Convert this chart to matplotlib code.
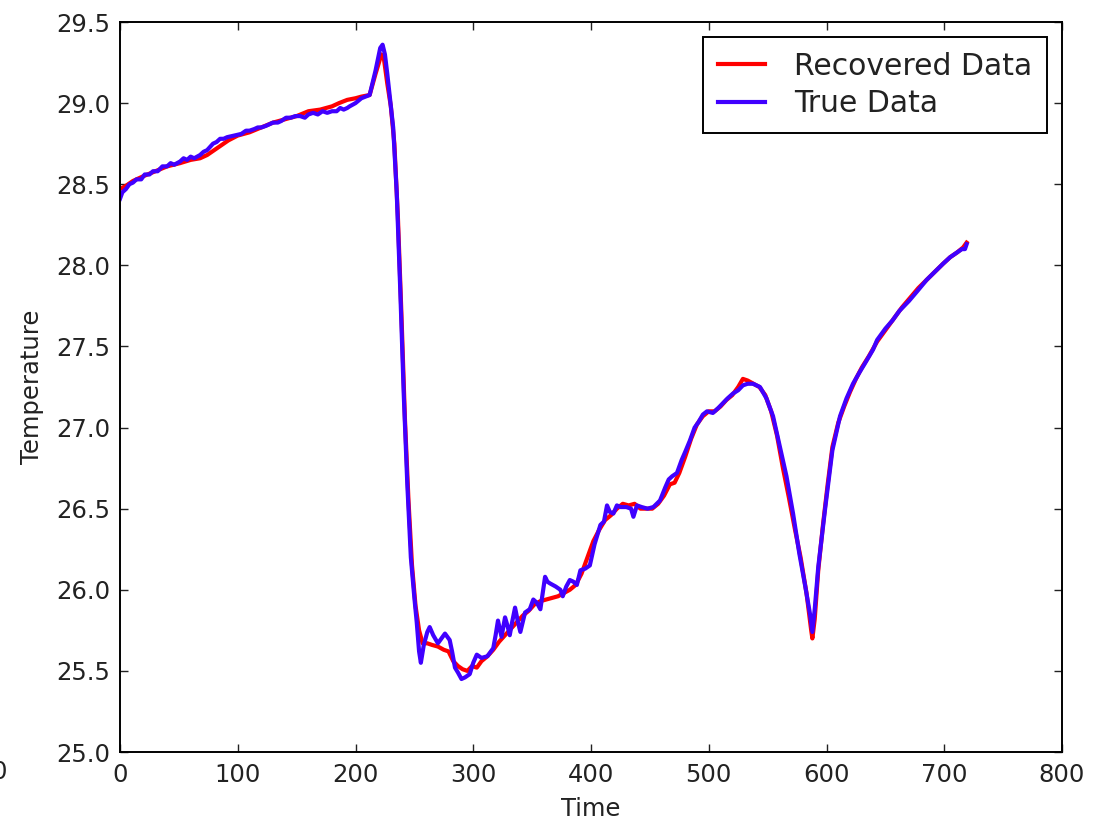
import matplotlib
matplotlib.use("Agg")
import matplotlib.pyplot as plt

# ---------------- data ----------------
true_time = [0, 2, 5, 8, 11, 14, 18, 21, 25, 28, 32, 36, 40, 43, 46, 51, 54, 57, 60, 63, 68,
             71, 74, 79, 82, 85, 88, 91, 97, 103, 107, 110, 114, 117, 120, 124, 130, 134,
             137, 141, 145, 149, 153, 157, 160, 164, 168, 172, 176, 180, 184, 187, 190,
             193, 195, 200, 205, 212, 217, 221, 223, 225, 227, 229, 232, 235, 238, 241,
             244, 247, 250, 252, 254, 255.5, 258, 261, 263, 266, 270, 273, 276, 280, 282,
             284.5, 287, 290, 293, 297, 300, 303, 307, 312, 315, 317, 319, 321, 324, 327,
             329, 331, 333, 335.5, 338, 340, 342, 344, 348, 351, 354, 357, 359, 361, 363,
             365, 370, 374, 376, 379, 382, 385, 388, 391, 395, 399, 403, 408, 411, 413.6,
             416, 419, 422, 425, 430, 434, 436, 439, 443, 448, 453, 458.6, 463, 466, 469,
             473, 477, 480, 484, 488, 491, 495, 498.5, 503.5, 508, 512, 516, 520.6, 525,
             529, 533, 537.6, 543.5, 549, 554.6, 560.5, 566, 571.6, 577, 582, 586, 588,
             590, 593, 599, 605, 611.5, 617, 622.5, 628, 633, 639.5, 643, 650, 656, 662,
             670, 677, 685, 692, 699, 705, 711, 715, 717.6, 719]
true_temp = [28.41, 28.45, 28.47, 28.50, 28.51, 28.53, 28.53, 28.56, 28.56, 28.58, 28.58,
             28.61, 28.61, 28.63, 28.62, 28.64, 28.66, 28.65, 28.67, 28.66, 28.68, 28.70,
             28.71, 28.75, 28.76, 28.78, 28.78, 28.79, 28.80, 28.81, 28.83, 28.83, 28.84,
             28.85, 28.85, 28.86, 28.88, 28.88, 28.89, 28.91, 28.91, 28.92, 28.92, 28.91,
             28.93, 28.94, 28.93, 28.95, 28.94, 28.95, 28.95, 28.97, 28.96, 28.97, 28.98,
             29.00, 29.03, 29.05, 29.20, 29.34, 29.36, 29.30, 29.18, 29.05, 28.85, 28.45,
             27.85, 27.20, 26.65, 26.20, 25.95, 25.80, 25.62, 25.55, 25.66, 25.74, 25.77,
             25.72, 25.67, 25.70, 25.73, 25.69, 25.62, 25.52, 25.49, 25.45, 25.46, 25.48,
             25.55, 25.60, 25.58, 25.59, 25.62, 25.64, 25.72, 25.81, 25.71, 25.83, 25.78,
             25.72, 25.80, 25.89, 25.80, 25.74, 25.80, 25.86, 25.88, 25.94, 25.92, 25.88,
             25.98, 26.08, 26.05, 26.04, 26.02, 26.00, 25.96, 26.02, 26.06, 26.05, 26.03,
             26.12, 26.13, 26.15, 26.28, 26.40, 26.42, 26.52, 26.48, 26.47, 26.52, 26.51,
             26.51, 26.50, 26.45, 26.52, 26.51, 26.50, 26.51, 26.55, 26.63, 26.68, 26.70,
             26.72, 26.80, 26.85, 26.92, 27.00, 27.03, 27.08, 27.10, 27.09, 27.12, 27.15,
             27.18, 27.21, 27.23, 27.26, 27.27, 27.27, 27.25, 27.18, 27.07, 26.88, 26.70,
             26.47, 26.22, 26.02, 25.85, 25.74, 25.88, 26.14, 26.51, 26.86, 27.07, 27.18,
             27.27, 27.34, 27.40, 27.48, 27.54, 27.61, 27.66, 27.72, 27.78, 27.84, 27.91,
             27.96, 28.01, 28.05, 28.08, 28.10, 28.10, 28.13]

rec_time = [0, 5, 11, 20, 30, 40, 51, 60, 68, 74, 80, 86, 92, 100, 110, 120, 130, 140,
            150, 160, 170, 180, 186, 193, 200, 205, 212, 217, 222, 224, 227, 230, 233,
            236, 239, 242, 245, 248, 251, 254, 257, 261, 265, 270, 275, 279, 283, 287,
            291, 295, 299, 303, 307, 312, 317, 322, 327, 332, 337, 342, 347, 352, 357,
            362, 367, 372, 377, 382, 387, 392, 397, 402, 407, 412, 417, 422, 427, 432,
            437, 442, 447, 452, 457, 462, 467, 471, 475, 480, 485, 490, 495, 500, 505,
            510, 515, 520, 525, 529, 533, 538, 543, 548, 553, 558, 563, 568, 573, 578,
            583, 587, 588, 590, 593, 597, 601, 605, 610, 615, 620, 625, 630, 636, 643,
            650, 657, 664, 671, 678, 685, 692, 699, 705, 711, 716, 719]
rec_temp = [28.47, 28.49, 28.52, 28.55, 28.58, 28.61, 28.63, 28.65, 28.66, 28.68, 28.71,
            28.74, 28.77, 28.80, 28.82, 28.85, 28.88, 28.90, 28.92, 28.95, 28.96, 28.98,
            29.00, 29.02, 29.03, 29.04, 29.05, 29.18, 29.30, 29.28, 29.12, 28.98, 28.75,
            28.30, 27.70, 27.05, 26.55, 26.15, 25.90, 25.75, 25.67, 25.67, 25.66, 25.65,
            25.63, 25.62, 25.56, 25.53, 25.51, 25.50, 25.53, 25.52, 25.56, 25.59, 25.63,
            25.68, 25.72, 25.76, 25.80, 25.84, 25.87, 25.91, 25.93, 25.94, 25.95, 25.96,
            25.98, 26.00, 26.03, 26.10, 26.20, 26.30, 26.37, 26.43, 26.46, 26.50, 26.53,
            26.52, 26.53, 26.50, 26.50, 26.50, 26.53, 26.58, 26.65, 26.66, 26.72, 26.82,
            26.93, 27.02, 27.07, 27.10, 27.10, 27.13, 27.17, 27.20, 27.25, 27.30, 27.29,
            27.27, 27.25, 27.20, 27.10, 26.95, 26.75, 26.57, 26.38, 26.20, 25.98, 25.75,
            25.70, 25.82, 26.12, 26.40, 26.65, 26.88, 27.03, 27.13, 27.22, 27.30, 27.37,
            27.44, 27.53, 27.60, 27.67, 27.74, 27.80, 27.86, 27.91, 27.96, 28.01, 28.05,
            28.08, 28.11, 28.14]

labels = ["Recovered Data", "True Data"]
x_ticks = [0, 100, 200, 300, 400, 500, 600, 700, 800]
y_ticks = [25.0, 25.5, 26.0, 26.5, 27.0, 27.5, 28.0, 28.5, 29.0, 29.5]

# ---------------- style ----------------
W, H = 1107, 816
plt.rcParams.update({
    "font.family": "DejaVu Sans",
    "xtick.direction": "in", "ytick.direction": "in",
    "xtick.top": True, "ytick.right": True,
    "xtick.major.size": 5.8, "ytick.major.size": 5.8,
    "xtick.major.width": 1.0, "ytick.major.width": 1.0,
    "xtick.major.pad": 8, "ytick.major.pad": 7,
    "xtick.labelsize": 17.5, "ytick.labelsize": 17.5,
    "xtick.color": "#222222", "ytick.color": "#222222",
    "axes.linewidth": 1.4,
})

fig = plt.figure(figsize=(W / 100, H / 100), dpi=100)
ax = fig.add_axes([120 / W, 1 - 752 / H, (1062 - 120) / W, (752 - 22) / H])

ax.plot(rec_time, rec_temp, color="#ff0000", lw=3.0, label=labels[0])
ax.plot(true_time, true_temp, color="#4000ff", lw=3.0, label=labels[1])

ax.set_xlim(0, 800)
ax.set_ylim(25.0, 29.5)
ax.set_xticks(x_ticks)
ax.set_yticks(y_ticks)
ax.set_xticklabels([str(t) for t in x_ticks])
ax.set_yticklabels([f"{t:.1f}" for t in y_ticks])
ax.minorticks_off()

ax.set_xlabel("Time", fontsize=17.5, color="#222222", labelpad=7)
ax.set_ylabel("Temperature", fontsize=17.5, color="#222222", labelpad=9)

leg = ax.legend(loc="upper right", bbox_to_anchor=(1047 / W, 1 - 37 / H),
                bbox_transform=fig.transFigure, borderaxespad=0,
                fontsize=21.5, fancybox=False, frameon=True, framealpha=1,
                edgecolor="black", borderpad=0.5, labelspacing=0.28,
                handlelength=1.6, handletextpad=0.95)
leg.get_frame().set_linewidth(1.4)
for t in leg.get_texts():
    t.set_color("#222222")

# partial tick label of a neighbouring panel, cut at the left edge
fig.text(-1 / W, 1 - 772 / H, "0", ha="center", va="center",
         fontsize=17.5, color="#222222")

fig.savefig("out.png", dpi=100)
